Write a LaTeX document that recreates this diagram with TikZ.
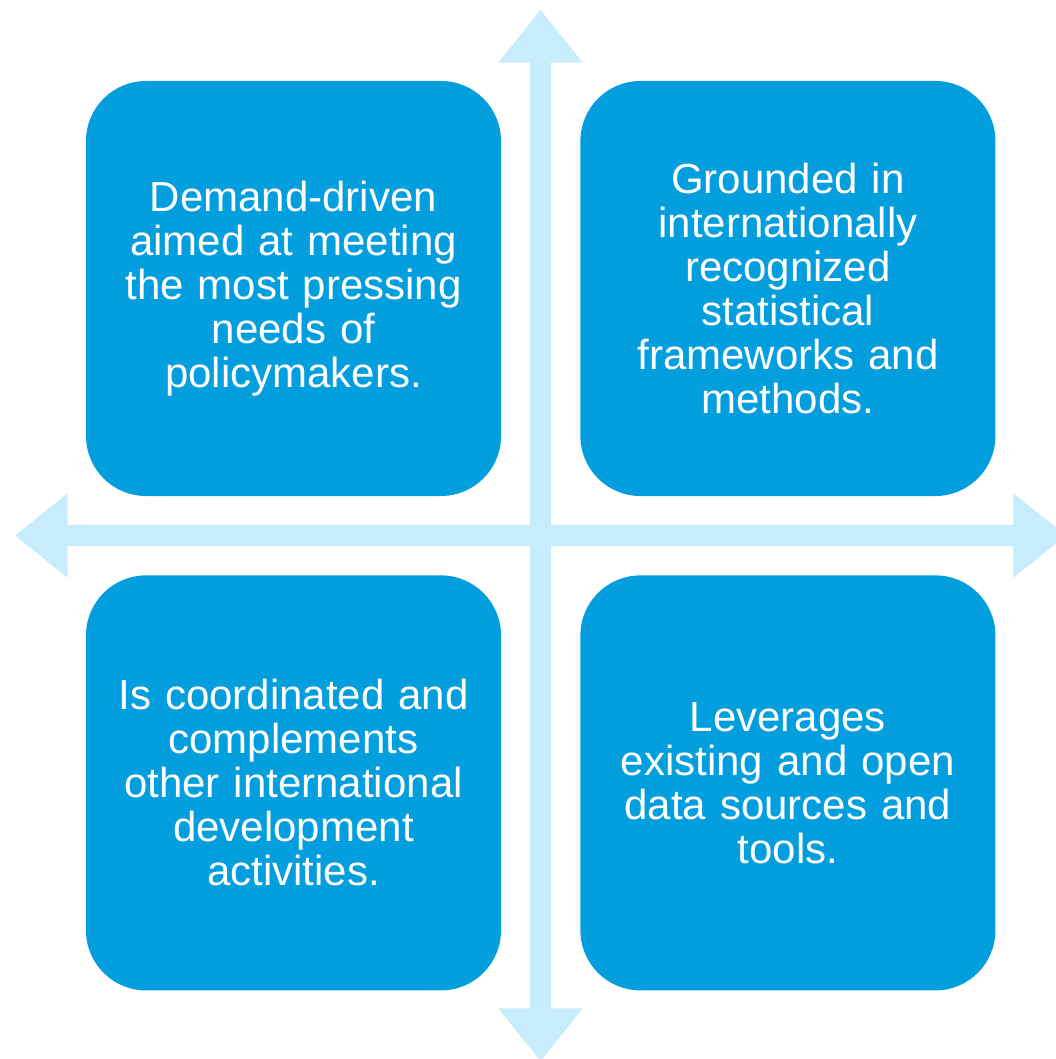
\documentclass[tikz,border=0pt]{standalone}
\usepackage{fontspec}
\setmainfont{Liberation Sans}
\usepackage{tikz}
\usetikzlibrary{shapes.arrows, positioning}
\definecolor{boxblue}{RGB}{3,158,221}
\definecolor{axisblue}{RGB}{199,236,252}
\tikzstyle{quadbox} = [rectangle, rounded corners=60pt, fill=boxblue, text=white, minimum width=415pt, minimum height=415pt, text width=370pt, align=center, inner sep=0pt, font=\fontsize{42}{44}\selectfont]
\tikzstyle{axis} = [double arrow, fill=axisblue, inner xsep=0pt, inner ysep=10.5pt, double arrow head extend=31.5pt, double arrow tip angle=77.5, minimum height=1051pt]

\begin{document}
\begin{tikzpicture}[x=1pt, y=-1pt, node distance=79pt]
	\useasboundingbox (0,0) rectangle (1056,1059);
	\clip (0,0) rectangle (1056,1059);
	% axes
	\node[axis] (haxis) at (540.5,535.5) {};
	\node[axis, rotate=90] (vaxis) at (540.5,535.5) {};
	% quadrants
	\node[quadbox] (demand) at (293.5,288.5) {Demand-driven\\ aimed at meeting\\ the most pressing\\ needs of\\ policymakers.};
	\node[quadbox, right=of demand] (grounded) {Grounded in\\ internationally\\ recognized\\ statistical\\ frameworks and\\ methods.};
	\node[quadbox, below=of demand] (coordinated) {Is coordinated and\\ complements\\ other international\\ development\\ activities.};
	\node[quadbox, below=of grounded] (leverages) {Leverages\\ existing and open\\ data sources and\\ tools.};
\end{tikzpicture}
\end{document}
